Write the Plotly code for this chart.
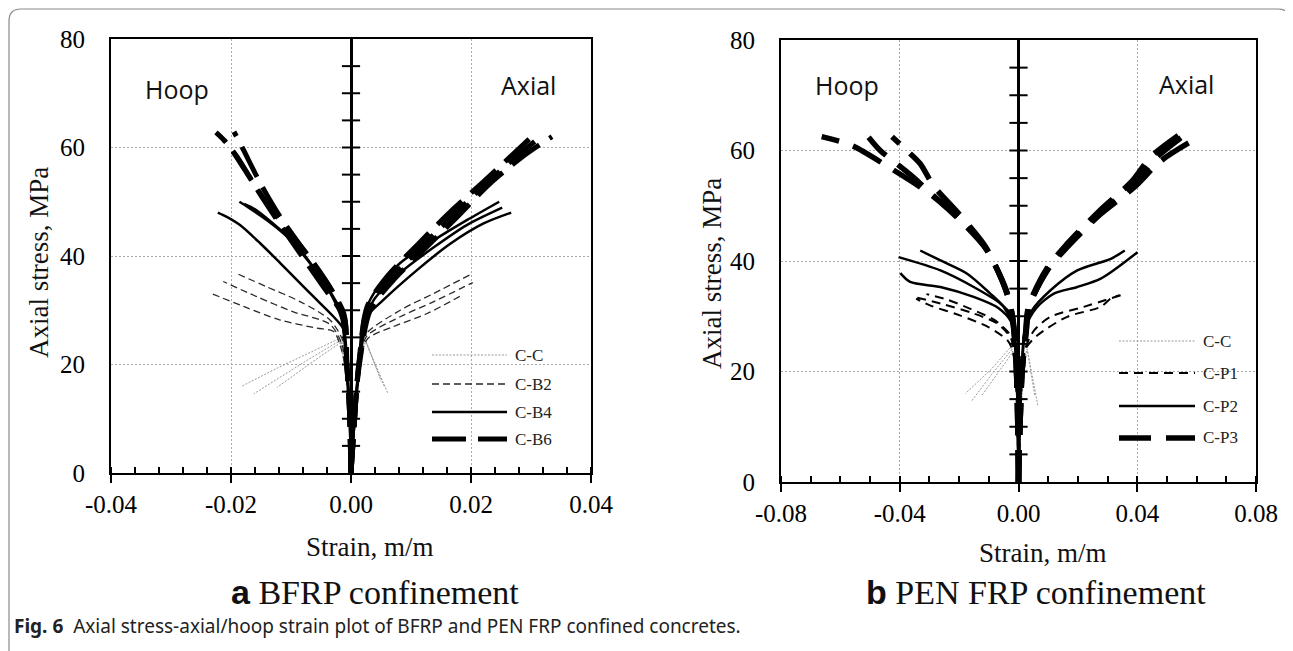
import plotly.graph_objects as go

W, H = 1293, 651
OFF = 8  # page body margin: the figure's origin lands 8 px right / down in the window


def px(x):
    return (x - OFF) / W


def py(y):
    return 1 - (y - OFF) / H


# ---------------- data: panel a (BFRP) ----------------
CC_H1_X = [0, -0.0001, -0.0003, -0.0007, -0.0013, -0.0019, -0.006, -0.012, -0.0182]
CC_H1_Y = [0, 6, 12, 17, 21.5, 24.8, 22.6, 19.5, 16.0]
CC_H2_X = [0, -0.0001, -0.0003, -0.0006, -0.0012, -0.0017, -0.007, -0.0162]
CC_H2_Y = [0, 6, 12, 17, 21.5, 24.5, 21.0, 14.6]
CC_H3_X = [0, -0.0001, -0.0003, -0.0006, -0.0011, -0.0015, -0.006, -0.0118, -0.0123]
CC_H3_Y = [0, 6, 12, 17, 21.5, 24.2, 20.8, 16.3, 15.8]
CC_A1_X = [0, 0.0004, 0.0008, 0.0013, 0.0018, 0.0022, 0.0035, 0.0061]
CC_A1_Y = [0, 8, 15, 20, 23.5, 24.8, 21.5, 14.8]
CC_A2_X = [0, 0.0004, 0.0009, 0.0014, 0.0019, 0.0024, 0.0038, 0.0056]
CC_A2_Y = [0, 8, 15, 20, 23.3, 24.5, 20.5, 15.8]
CC_A3_X = [0, 0.0005, 0.001, 0.0015, 0.002, 0.0025, 0.0036, 0.005]
CC_A3_Y = [0, 8, 15, 20, 23.2, 24.3, 21.2, 17.0]

B2_H1_X = [0, -0.0001, -0.0003, -0.0007, -0.0014, -0.0035, -0.0085, -0.014, -0.0193]
B2_H1_Y = [0, 6, 12, 19, 24.5, 28.2, 31.6, 34.3, 36.9]
B2_H2_X = [0, -0.0001, -0.0003, -0.0008, -0.0016, -0.0035, -0.0096, -0.0157, -0.0213]
B2_H2_Y = [0, 6, 12, 19, 24.0, 27.4, 29.7, 32.5, 35.3]
B2_H3_X = [0, -0.0001, -0.0004, -0.0009, -0.0018, -0.0029, -0.0057, -0.0118, -0.0179, -0.0233]
B2_H3_Y = [0, 6, 12, 19, 23.5, 26.1, 26.7, 28.2, 30.7, 33.1]
B2_A1_X = [0, 0.0004, 0.001, 0.0016, 0.0024, 0.0082, 0.0138, 0.0203]
B2_A1_Y = [0, 8, 16, 22, 25.5, 30.0, 33.1, 36.8]
B2_A2_X = [0, 0.0004, 0.001, 0.0017, 0.0026, 0.0082, 0.0138, 0.0203]
B2_A2_Y = [0, 8, 16, 22, 25.2, 28.8, 31.6, 35.1]
B2_A3_X = [0, 0.0004, 0.0011, 0.0018, 0.0028, 0.0071, 0.0127, 0.0187]
B2_A3_Y = [0, 8, 16, 22, 24.8, 27.0, 29.4, 32.9]

B4_H1_X = [0, -0.0001, -0.0002, -0.0004, -0.0007, -0.0012, -0.0029, -0.0057, -0.0085, -0.0118, -0.0151, -0.0185, -0.0207, -0.0222]
B4_H1_Y = [0, 5, 10, 15, 20, 26.4, 28.8, 31.9, 35.0, 38.7, 42.3, 45.7, 47.2, 48.0]
B4_H2_X = [0, -0.0001, -0.0002, -0.0004, -0.0008, -0.0018, -0.004, -0.0073, -0.0107, -0.014, -0.0173, -0.0186]
B4_H2_Y = [0, 5, 10, 15, 22, 30.0, 34.3, 39.3, 43.6, 46.6, 49.1, 50.0]
B4_H3_X = [0, -0.0001, -0.0002, -0.0005, -0.0009, -0.0016, -0.0035, -0.0065, -0.0098, -0.013, -0.016, -0.0178]
B4_H3_Y = [0, 5, 10, 15, 22, 28.5, 33.3, 38.3, 42.8, 46.0, 48.6, 49.6]
B4_A1_X = [0, 0.0003, 0.0006, 0.0009, 0.0013, 0.0021, 0.0038, 0.0082, 0.0138, 0.0193, 0.0247]
B4_A1_Y = [0, 5, 10, 15, 20, 28.8, 33.1, 38.7, 42.9, 46.6, 50.0]
B4_A2_X = [0, 0.0003, 0.0006, 0.0009, 0.0014, 0.0023, 0.0038, 0.0082, 0.0138, 0.0193, 0.0252]
B4_A2_Y = [0, 5, 10, 15, 20, 27.5, 31.9, 36.9, 41.6, 45.7, 48.9]
B4_A3_X = [0, 0.0003, 0.0006, 0.001, 0.0015, 0.0027, 0.0054, 0.011, 0.0166, 0.0221, 0.0267]
B4_A3_Y = [0, 5, 10, 15, 20, 28.8, 31.9, 37.4, 42.3, 46.0, 48.0]

B6_H1_X = [0, -0.0001, -0.0002, -0.0004, -0.0007, -0.001, -0.0029, -0.0062, -0.0101, -0.014, -0.0173, -0.0207, -0.0225]
B6_H1_Y = [0, 5, 10, 15, 20, 28.2, 33.1, 38.7, 44.2, 49.7, 55.2, 60.8, 62.8]
B6_H2_X = [0, -0.0001, -0.0002, -0.0004, -0.0007, -0.0012, -0.004, -0.0079, -0.0118, -0.0151, -0.0179, -0.0195]
B6_H2_Y = [0, 5, 10, 15, 20, 29.4, 35.0, 41.1, 47.2, 53.4, 59.5, 62.9]
B6_H3_X = [0, -0.0001, -0.0002, -0.0004, -0.0007, -0.0014, -0.0046, -0.0085, -0.0123, -0.0156, -0.019, -0.0212]
B6_H3_Y = [0, 5, 10, 15, 20, 29.0, 34.3, 40.5, 46.6, 52.2, 58.3, 61.4]
B6_A1_X = [0, 0.0003, 0.0006, 0.0009, 0.0013, 0.0027, 0.006, 0.011, 0.0166, 0.0221, 0.0277, 0.031]
B6_A1_Y = [0, 5, 10, 15, 20, 30.7, 36.2, 42.0, 48.2, 53.7, 59.5, 62.9]
B6_A2_X = [0, 0.0003, 0.0006, 0.0009, 0.0014, 0.0032, 0.0071, 0.0121, 0.0177, 0.0232, 0.0293, 0.0335]
B6_A2_Y = [0, 5, 10, 15, 20, 30.0, 35.6, 41.1, 47.2, 53.4, 58.9, 62.0]
B6_A3_X = [0, 0.0003, 0.0006, 0.0009, 0.0013, 0.003, 0.0066, 0.0116, 0.0172, 0.0227, 0.0285, 0.0322]
B6_A3_Y = [0, 5, 10, 15, 20, 30.3, 35.9, 41.5, 47.7, 53.5, 59.2, 62.5]

# ---------------- data: panel b (PEN FRP) ----------------
CC2_H1_X = [0, -0.0002, -0.0005, -0.0012, -0.002, -0.0027, -0.009, -0.0179]
CC2_H1_Y = [0, 8, 15, 20, 23.5, 24.4, 20.5, 16.0]
CC2_H2_X = [0, -0.0002, -0.0005, -0.001, -0.0017, -0.0022, -0.009, -0.016]
CC2_H2_Y = [0, 8, 15, 20, 23.2, 24.0, 19.5, 14.5]
CC2_H3_X = [0, -0.0002, -0.0004, -0.0009, -0.0014, -0.0018, -0.007, -0.0123]
CC2_H3_Y = [0, 8, 15, 20, 23.0, 23.6, 19.8, 15.7]
CC2_A1_X = [0, 0.0005, 0.001, 0.0018, 0.0024, 0.0029, 0.0045, 0.0065]
CC2_A1_Y = [0, 8, 15, 20, 23.2, 24.1, 19.5, 13.9]
CC2_A2_X = [0, 0.0005, 0.0011, 0.0019, 0.0025, 0.003, 0.0042, 0.0055]
CC2_A2_Y = [0, 8, 15, 20, 23.0, 23.8, 19.8, 15.5]

P1_H1_X = [0, -0.0001, -0.0003, -0.0008, -0.0018, -0.0027, -0.0072, -0.0151, -0.0263, -0.0359]
P1_H1_Y = [0, 5, 10, 20, 24.5, 26.2, 28.7, 30.5, 32.3, 33.6]
P1_H2_X = [0, -0.0001, -0.0003, -0.0008, -0.0017, -0.003, -0.008, -0.016, -0.024, -0.031]
P1_H2_Y = [0, 5, 10, 20, 25.0, 26.8, 29.3, 31.3, 33.0, 34.0]
P1_H3_X = [0, -0.0001, -0.0004, -0.001, -0.002, -0.0035, -0.01, -0.02, -0.03, -0.0345]
P1_H3_Y = [0, 5, 10, 20, 23.8, 25.5, 28.0, 30.2, 32.0, 33.2]
P1_A1_X = [0, 0.0002, 0.0005, 0.0012, 0.0022, 0.0052, 0.0108, 0.022, 0.0344]
P1_A1_Y = [0, 5, 10, 20, 24.0, 27.4, 29.9, 31.7, 33.8]
P1_A2_X = [0, 0.0002, 0.0006, 0.0013, 0.0025, 0.0063, 0.0164, 0.0277, 0.0311, 0.034]
P1_A2_Y = [0, 5, 10, 20, 24.2, 26.5, 29.9, 31.7, 33.2, 33.8]

P2_H1_X = [0, -0.0001, -0.0004, -0.0008, -0.0021, -0.0061, -0.0151, -0.0263, -0.0404]
P2_H1_Y = [0, 5, 15, 23, 29.9, 32.3, 35.3, 38.3, 40.7]
P2_H2_X = [0, -0.0001, -0.0004, -0.0009, -0.002, -0.005, -0.0095, -0.0173, -0.0263, -0.0331]
P2_H2_Y = [0, 5, 15, 23, 28.5, 31.7, 34.1, 37.7, 40.1, 41.9]
P2_H3_X = [0, -0.0001, -0.0004, -0.0008, -0.0025, -0.0068, -0.0151, -0.0263, -0.0365, -0.0398]
P2_H3_Y = [0, 5, 15, 23, 29.0, 31.5, 33.5, 35.3, 36.2, 37.8]
P2_A1_X = [0, 0.0002, 0.0006, 0.0012, 0.002, 0.0045, 0.0108, 0.0198, 0.0311, 0.0358]
P2_A1_Y = [0, 5, 15, 22, 27, 31, 34.7, 38.3, 40.4, 41.9]
P2_A2_X = [0, 0.0002, 0.0006, 0.0013, 0.0025, 0.006, 0.0119, 0.0198, 0.0277, 0.0401]
P2_A2_Y = [0, 5, 15, 22, 28, 31.5, 34.1, 35.3, 36.8, 41.6]

P3_H1_X = [0, -0.0001, -0.0004, -0.001, -0.0021, -0.0038, -0.0106, -0.0196, -0.0297, -0.0443, -0.0561, -0.0663]
P3_H1_Y = [0, 5, 15, 24, 29.9, 34.1, 41.9, 47.3, 52.1, 57.2, 60.9, 62.5]
P3_H2_X = [0, -0.0001, -0.0004, -0.001, -0.0022, -0.0042, -0.011, -0.02, -0.0297, -0.0353, -0.041, -0.0466, -0.0505]
P3_H2_Y = [0, 5, 15, 24, 30.2, 34.8, 42.3, 47.8, 52.3, 55.1, 57.6, 60.0, 62.4]
P3_H3_X = [0, -0.0001, -0.0004, -0.001, -0.002, -0.0045, -0.011, -0.02, -0.0286, -0.0331, -0.0376, -0.0426]
P3_H3_Y = [0, 5, 15, 24, 30.0, 35.0, 42.5, 48.5, 53.6, 57.6, 60.0, 62.5]
P3_A1_X = [0, 0.0002, 0.0005, 0.0012, 0.0025, 0.0035, 0.0097, 0.0164, 0.0277, 0.0389, 0.0479, 0.059]
P3_A1_Y = [0, 5, 10, 20, 27, 31.7, 38.3, 42.5, 48.5, 53.3, 58.1, 61.9]
P3_A2_X = [0, 0.0002, 0.0005, 0.0012, 0.0026, 0.0037, 0.0099, 0.0166, 0.0279, 0.0385, 0.046, 0.0547]
P3_A2_Y = [0, 5, 10, 20, 27.2, 31.9, 38.5, 42.8, 48.9, 53.8, 58.5, 62.3]
P3_A3_X = [0, 0.0002, 0.0005, 0.0012, 0.0024, 0.0034, 0.0095, 0.0162, 0.0275, 0.038, 0.0445, 0.0538]
P3_A3_Y = [0, 5, 10, 20, 27.1, 31.8, 38.6, 43.0, 49.2, 54.3, 58.8, 62.7]

# ---------------- ticks / labels ----------------
Y_TICKS = [0, 20, 40, 60, 80]
XA_TICKS = [-0.04, -0.02, 0.0, 0.02, 0.04]
XA_TEXT = ["-0.04", "-0.02", "0.00", "0.02", "0.04"]
XB_TICKS = [-0.08, -0.04, 0.0, 0.04, 0.08]
XB_TEXT = ["-0.08", "-0.04", "0.00", "0.04", "0.08"]
CENTER_TICKS_Y = [5, 10, 15, 20, 25, 30, 35, 40, 45, 50, 55, 60, 65, 70, 75]

LEGEND_A = ["C-C", "C-B2", "C-B4", "C-B6"]
LEGEND_B = ["C-C", "C-P1", "C-P2", "C-P3"]

SERIF = "Liberation Serif, Times New Roman, serif"
SANS = "Open Sans, Noto Sans, sans-serif"

STYLE = {
    "C-C": dict(color="#9a9a9a", width=1, dash="2px,1.5px"),
    "C-B2": dict(color="#2a2a2a", width=1.3, dash="7px,4px"),
    "C-B4": dict(color="#000000", width=2.5, dash="solid"),
    "C-B6": dict(color="#000000", width=5, dash="34px,12px"),
    "C-P1": dict(color="#000000", width=2, dash="9px,6px"),
    "C-P2": dict(color="#000000", width=2.5, dash="solid"),
    "C-P3": dict(color="#000000", width=5.5, dash="32px,15px"),
}

SERIES_A = [
    ("C-C", [(CC_H1_X, CC_H1_Y), (CC_H2_X, CC_H2_Y), (CC_H3_X, CC_H3_Y),
             (CC_A1_X, CC_A1_Y), (CC_A2_X, CC_A2_Y), (CC_A3_X, CC_A3_Y)]),
    ("C-B2", [(B2_H1_X, B2_H1_Y), (B2_H2_X, B2_H2_Y), (B2_H3_X, B2_H3_Y),
              (B2_A1_X, B2_A1_Y), (B2_A2_X, B2_A2_Y), (B2_A3_X, B2_A3_Y)]),
    ("C-B4", [(B4_H1_X, B4_H1_Y), (B4_H2_X, B4_H2_Y), (B4_H3_X, B4_H3_Y),
              (B4_A1_X, B4_A1_Y), (B4_A2_X, B4_A2_Y), (B4_A3_X, B4_A3_Y)]),
    ("C-B6", [(B6_H1_X, B6_H1_Y), (B6_H2_X, B6_H2_Y), (B6_H3_X, B6_H3_Y),
              (B6_A1_X, B6_A1_Y), (B6_A2_X, B6_A2_Y), (B6_A3_X, B6_A3_Y)]),
]
SERIES_B = [
    ("C-C", [(CC2_H1_X, CC2_H1_Y), (CC2_H2_X, CC2_H2_Y), (CC2_H3_X, CC2_H3_Y),
             (CC2_A1_X, CC2_A1_Y), (CC2_A2_X, CC2_A2_Y)]),
    ("C-P1", [(P1_H1_X, P1_H1_Y), (P1_H2_X, P1_H2_Y), (P1_H3_X, P1_H3_Y),
              (P1_A1_X, P1_A1_Y), (P1_A2_X, P1_A2_Y)]),
    ("C-P2", [(P2_H1_X, P2_H1_Y), (P2_H2_X, P2_H2_Y), (P2_H3_X, P2_H3_Y),
              (P2_A1_X, P2_A1_Y), (P2_A2_X, P2_A2_Y)]),
    ("C-P3", [(P3_H1_X, P3_H1_Y), (P3_H2_X, P3_H2_Y), (P3_H3_X, P3_H3_Y),
              (P3_A1_X, P3_A1_Y), (P3_A2_X, P3_A2_Y), (P3_A3_X, P3_A3_Y)]),
]

fig = go.Figure()


def add_series(series, xa, ya):
    for name, curves in series:
        st = STYLE[name]
        for xs, ys in curves:
            fig.add_trace(go.Scatter(
                x=xs, y=ys, mode="lines", name=name, legendgroup=name,
                showlegend=False, xaxis=xa, yaxis=ya,
                line=dict(color=st["color"], width=st["width"], dash=st["dash"],
                          shape="linear" if name == "C-C" else "spline", smoothing=0.8),
                hoverinfo="skip"))
    # ticks crossing the central (x = 0) axis
    fig.add_trace(go.Scatter(
        x=[0] * len(CENTER_TICKS_Y), y=CENTER_TICKS_Y, mode="markers",
        xaxis=xa, yaxis=ya, showlegend=False, hoverinfo="skip",
        marker=dict(symbol="line-ew", size=13, color="black",
                    line=dict(color="black", width=2))))


add_series(SERIES_A, "x", "y")
add_series(SERIES_B, "x2", "y2")

# panel geometry (window pixels)
A_L, A_R, A_T, A_B = 111, 591, 39, 473
B_L, B_R, B_T, B_B = 781, 1256, 40, 482


def xaxis_cfg(dom, rng, tv, tt, minor_dt, anchor):
    return dict(
        domain=dom, range=rng, tickmode="array", tickvals=tv, ticktext=tt,
        ticks="outside", ticklen=8, tickwidth=2, tickcolor="black",
        showline=True, linewidth=2, linecolor="black", mirror=True,
        showgrid=True, gridcolor="#a8a8a8", gridwidth=1, griddash="2px,2px",
        zeroline=True, zerolinecolor="black", zerolinewidth=2.5,
        minor=dict(tickmode="linear", tick0=0, dtick=minor_dt, ticks="inside",
                   ticklen=6, tickwidth=1.5, tickcolor="black", showgrid=False),
        tickfont=dict(family=SERIF, size=25, color="black"),
        ticklabelstandoff=0, anchor=anchor, automargin=False, fixedrange=True)


def yaxis_cfg(dom, anchor):
    return dict(
        domain=dom, range=[0, 80], tickmode="array", tickvals=Y_TICKS,
        ticks="", showline=True, linewidth=2, linecolor="black", mirror=True,
        showgrid=True, gridcolor="#a8a8a8", gridwidth=1, griddash="2px,2px",
        zeroline=False, tickfont=dict(family=SERIF, size=25, color="black"),
        ticklabelstandoff=19, anchor=anchor, automargin=False, fixedrange=True)


fig.update_layout(
    template="none",
    width=W, height=H, margin=dict(l=0, r=0, t=0, b=0, pad=0, autoexpand=False),
    paper_bgcolor="white", plot_bgcolor="white", showlegend=False,
    xaxis=xaxis_cfg([px(A_L), px(A_R)], [-0.04, 0.04], XA_TICKS, XA_TEXT, 0.004, "y"),
    yaxis=yaxis_cfg([py(A_B), py(A_T)], "x"),
    xaxis2=xaxis_cfg([px(B_L), px(B_R)], [-0.08, 0.08], XB_TICKS, XB_TEXT, 0.01, "y2"),
    yaxis2=yaxis_cfg([py(B_B), py(B_T)], "x2"),
)

shapes = []
annotations = []

# legend background boxes (hide grid behind legend)
shapes.append(dict(type="rect", xref="paper", yref="paper", layer="between",
                   x0=px(395), x1=px(589), y0=py(471), y1=py(340),
                   fillcolor="white", line=dict(width=0)))
shapes.append(dict(type="rect", xref="paper", yref="paper", layer="between",
                   x0=px(1107), x1=px(1240), y0=py(480), y1=py(323),
                   fillcolor="white", line=dict(width=0)))


def add_legend(names, x0, x1, ys):
    for name, yy in zip(names, ys):
        st = STYLE[name]
        shapes.append(dict(type="line", xref="paper", yref="paper",
                           x0=px(x0), x1=px(x1), y0=py(yy), y1=py(yy),
                           line=dict(color=st["color"], width=st["width"], dash=st["dash"])))
        annotations.append(dict(xref="paper", yref="paper", x=px(x1 + 6), y=py(yy),
                                text=name, showarrow=False, xanchor="left", yanchor="middle",
                                font=dict(family=SERIF, size=17, color="#222")))


add_legend(LEGEND_A, 432, 507, [355, 384, 412, 439])
add_legend(LEGEND_B, 1119, 1195, [341, 373, 406, 438])


def note(text, x, y, size, family, **kw):
    d = dict(xref="paper", yref="paper", x=px(x), y=py(y), text=text, showarrow=False,
             xanchor="center", yanchor="middle", font=dict(family=family, size=size, color="#111"))
    d.update(kw)
    annotations.append(d)


note("Hoop", 177, 89, 25, SANS)
note("Axial", 528, 85, 25, SANS)
note("Hoop", 847, 85, 25, SANS)
note("Axial", 1186, 84, 25, SANS)

note("Axial stress, MPa", 39, 263, 27, SERIF, textangle=-90)
note("Axial stress, MPa", 712, 274, 27, SERIF, textangle=-90)
note("Strain, m/m", 370, 547, 27, SERIF)
note("Strain, m/m", 1043, 553, 27, SERIF)

note('<b><span style="font-family:Liberation Sans, Arial, sans-serif">a</span></b> BFRP confinement',
     375, 592, 34, SERIF)
note('<b><span style="font-family:Liberation Sans, Arial, sans-serif">b</span></b> PEN FRP confinement',
     1036, 592, 34, SERIF)

annotations.append(dict(xref="paper", yref="paper", x=px(12), y=py(626), showarrow=False,
                        xanchor="left", yanchor="middle",
                        text="<b>Fig. 6</b>&nbsp; Axial stress-axial/hoop strain plot of BFRP and PEN FRP confined concretes.",
                        font=dict(family="Noto Sans, Open Sans, sans-serif", size=19, color="#222")))

# rounded figure border (open at the bottom)
r = 12
x0b, x1b, ytb, ybb = 9, 1290, 9, 658
path = (f"M {px(x0b)},{py(ybb)} L {px(x0b)},{py(ytb + r)} Q {px(x0b)},{py(ytb)} {px(x0b + r)},{py(ytb)} "
        f"L {px(x1b - r)},{py(ytb)} Q {px(x1b)},{py(ytb)} {px(x1b)},{py(ytb + r)} L {px(x1b)},{py(ybb)}")
shapes.append(dict(type="path", xref="paper", yref="paper", path=path,
                   line=dict(color="#8a8a8a", width=1.2), layer="above"))

fig.update_layout(shapes=shapes, annotations=annotations)

fig.write_html("out.html")
